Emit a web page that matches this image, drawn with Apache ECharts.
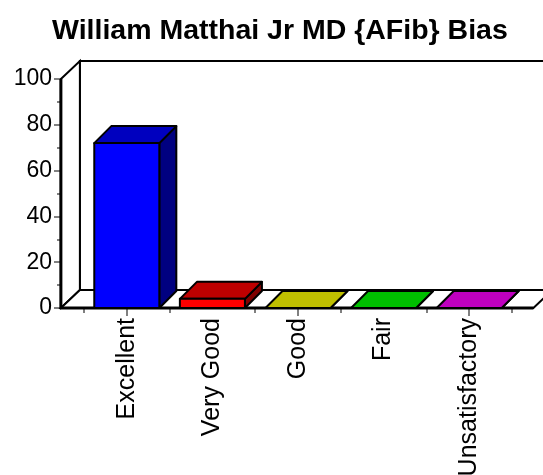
<!DOCTYPE html>
<html>
<head>
<meta charset="utf-8">
<script src="https://cdn.jsdelivr.net/npm/echarts@6/dist/echarts.min.js"></script>
<style>
  * { margin: 0; padding: 0; }
  body { background: #fff; }
  #main { width: 543px; height: 475px; }
</style>
</head>
<body>
<div id="main"></div>
<script>
  // data
  var categories = ['Excellent', 'Very Good', 'Good', 'Fair', 'Unsatisfactory'];
  var values = [72, 4, 0, 0, 0];
  var yTicks = [0, 20, 40, 60, 80, 100];

  // front colours of the bars (top/side are darker shades)
  var barColors = ['#0000FF', '#FF0000', '#FFFF00', '#00FF00', '#FF00FF'];
  var font = '"Liberation Sans", Arial, sans-serif';
  var DX = 17, DY = -17;      // bar depth
  var WX = 19, WY = -18;      // wall depth

  function shade(hex, k) {
    var n = parseInt(hex.slice(1), 16);
    var r = Math.round(((n >> 16) & 255) * k);
    var g = Math.round(((n >> 8) & 255) * k);
    var b = Math.round((n & 255) * k);
    return 'rgb(' + r + ',' + g + ',' + b + ')';
  }

  var chart = echarts.init(document.getElementById('main'));

  function renderFrame(params, api) {
    var band = api.size([1, 0])[0];
    var p0 = api.coord([0, 0]);
    var pTop = api.coord([0, yTicks[yTicks.length - 1]]);
    var pEnd = api.coord([categories.length - 1, 0]);
    var xl = p0[0] - band * 0.77;
    var xr = pEnd[0] + band * 0.75;
    var yb = p0[1], yt = pTop[1];
    return {
      type: 'group',
      children: [
        { type: 'polygon', shape: { points: [[xl + WX, yt + WY], [xr + WX + 40, yt + WY], [xr + WX + 40, yb + WY], [xl + WX, yb + WY]] },
          style: { fill: '#fff', stroke: '#000', lineWidth: 2 } },
        { type: 'polygon', shape: { points: [[xl, yt], [xl + WX, yt + WY], [xl + WX, yb + WY], [xl, yb]] },
          style: { fill: '#fff', stroke: '#000', lineWidth: 2 } },
        { type: 'polygon', shape: { points: [[xl, yb], [xr, yb], [xr + WX, yb + WY], [xl + WX, yb + WY]] },
          style: { fill: '#fff', stroke: '#000', lineWidth: 2 } },
        { type: 'line', shape: { x1: xl, y1: yb, x2: xr, y2: yb }, style: { stroke: '#000', lineWidth: 3 } },
        { type: 'line', shape: { x1: xl, y1: yb, x2: xl, y2: yt }, style: { stroke: '#000', lineWidth: 3 } }
      ]
    };
  }

  function renderBar(params, api) {
    var i = api.value(0);
    var v = api.value(1);
    var band = api.size([1, 0])[0];
    var w = band * 0.76;
    var p0 = api.coord([i, 0]);
    var p1 = api.coord([i, v]);
    var x0 = p0[0] - w / 2, x1 = x0 + w;
    var yb = p0[1], yt = p1[1];
    var c = barColors[i];
    var st = { stroke: '#000', lineWidth: 2, lineJoin: 'round' };
    return {
      type: 'group',
      children: [
        { type: 'polygon', shape: { points: [[x1, yt], [x1, yb], [x1 + DX, yb + DY], [x1 + DX, yt + DY]] },
          style: Object.assign({ fill: shade(c, 0.5) }, st) },
        { type: 'polygon', shape: { points: [[x0, yt], [x1, yt], [x1 + DX, yt + DY], [x0 + DX, yt + DY]] },
          style: Object.assign({ fill: shade(c, 0.75) }, st) },
        { type: 'rect', shape: { x: x0, y: yt, width: w, height: yb - yt },
          style: Object.assign({ fill: c }, st) }
      ]
    };
  }

  chart.setOption({
    animation: false,
    title: {
      text: 'William Matthai Jr MD {AFib} Bias',
      left: 47,
      top: 12,
      textStyle: { fontFamily: font, fontSize: 28.5, fontWeight: 'bold', color: '#000' }
    },
    grid: { left: 84, right: 31, top: 79, bottom: 167, containLabel: false, outerBoundsMode: 'none' },
    xAxis: [{
      type: 'category',
      data: categories,
      position: 'bottom',
      axisLine: { show: false },
      axisTick: { show: true, length: 5, lineStyle: { color: '#808080', width: 2 } },
      axisLabel: { rotate: 90, margin: 10, interval: 0, fontFamily: font, fontSize: 25, color: '#000' }
    }, {
      type: 'category',
      data: categories,
      position: 'bottom',
      offset: 0,
      axisLine: { show: false },
      axisTick: { show: true, alignWithLabel: true, length: 8, lineStyle: { color: '#808080', width: 2 } },
      axisLabel: { show: false }
    }],
    yAxis: {
      type: 'value',
      min: yTicks[0],
      max: yTicks[yTicks.length - 1],
      interval: yTicks[1] - yTicks[0],
      offset: 22,
      axisLine: { show: false },
      splitLine: { show: false },
      axisTick: { show: true, length: 8, lineStyle: { color: '#808080', width: 2 } },
      minorTick: { show: true, splitNumber: 2, length: 5, lineStyle: { color: '#808080', width: 2 } },
      axisLabel: { margin: 10, fontFamily: font, fontSize: 23, color: '#000' }
    },
    series: [{
      type: 'custom',
      renderItem: renderFrame,
      data: [[0, 0]],
      z: 1,
      silent: true
    }, {
      type: 'custom',
      renderItem: renderBar,
      data: values.map(function (v, i) { return [i, v]; }),
      z: 3
    }]
  });
</script>
</body>
</html>
